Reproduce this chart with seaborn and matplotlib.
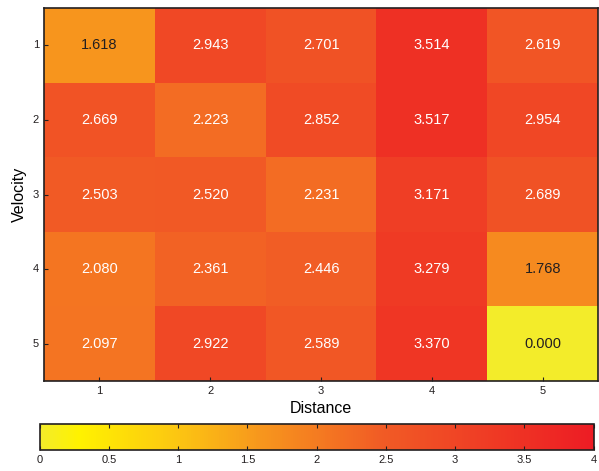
import numpy as np
import pandas as pd
import matplotlib
matplotlib.use('Agg')
import matplotlib.pyplot as plt
import seaborn as sns
from matplotlib.colors import LinearSegmentedColormap

# Data
velocity = ['1', '2', '3', '4', '5']
distance = ['1', '2', '3', '4', '5']
row1 = [1.618, 2.943, 2.701, 3.514, 2.619]
row2 = [2.669, 2.223, 2.852, 3.517, 2.954]
row3 = [2.503, 2.520, 2.231, 3.171, 2.689]
row4 = [2.080, 2.361, 2.446, 3.279, 1.768]
row5 = [2.097, 2.922, 2.589, 3.370, 0.000]

df = pd.DataFrame([row1, row2, row3, row4, row5], index=velocity, columns=distance)

plt.rcParams['font.family'] = ['Liberation Sans', 'DejaVu Sans']

cmap = LinearSegmentedColormap.from_list('yr', [
    (0.0, '#f3ec2a'), (0.07, '#fff200'), (0.25, '#fcc512'),
    (0.4, '#f7961d'), (0.62, '#f15b25'), (1.0, '#ed1c24')])

fig = plt.figure(figsize=(5.99, 4.71), dpi=100)
ax = fig.add_axes([0.0735, 0.191, 0.925, 0.792])
cax = fig.add_axes([0.066, 0.045, 0.925, 0.055])

sns.heatmap(df, ax=ax, cmap=cmap, vmin=0, vmax=4, annot=True, fmt='.3f',
            annot_kws={'size': 10.5}, cbar_ax=cax,
            cbar_kws={'orientation': 'horizontal', 'ticks': np.arange(0, 4.01, 0.5)})

# dark text on the light cells
vals = df.values.flatten()
for t, v in zip(ax.texts, vals):
    t.set_color('#231f20' if v < 1.9 else 'white')

for s in ax.spines.values():
    s.set_visible(True)
    s.set_color('#231f20')
    s.set_linewidth(1.2)
ax.tick_params(axis='both', labelsize=8, length=3, direction='in', colors='#231f20')
ax.tick_params(axis='y', rotation=0)
ax.set_xlabel('Distance', fontsize=11.5)
ax.set_ylabel('Velocity', fontsize=11.5)

cax.tick_params(labelsize=8, length=3, direction='in', top=True, colors='#231f20')
cax.set_xticklabels(['0', '0.5', '1', '1.5', '2', '2.5', '3', '3.5', '4'])
cbar = ax.collections[0].colorbar
cbar.outline.set_visible(True)
cbar.outline.set_edgecolor('#231f20')
cbar.outline.set_linewidth(1.2)

fig.savefig('out.png', dpi=100)
